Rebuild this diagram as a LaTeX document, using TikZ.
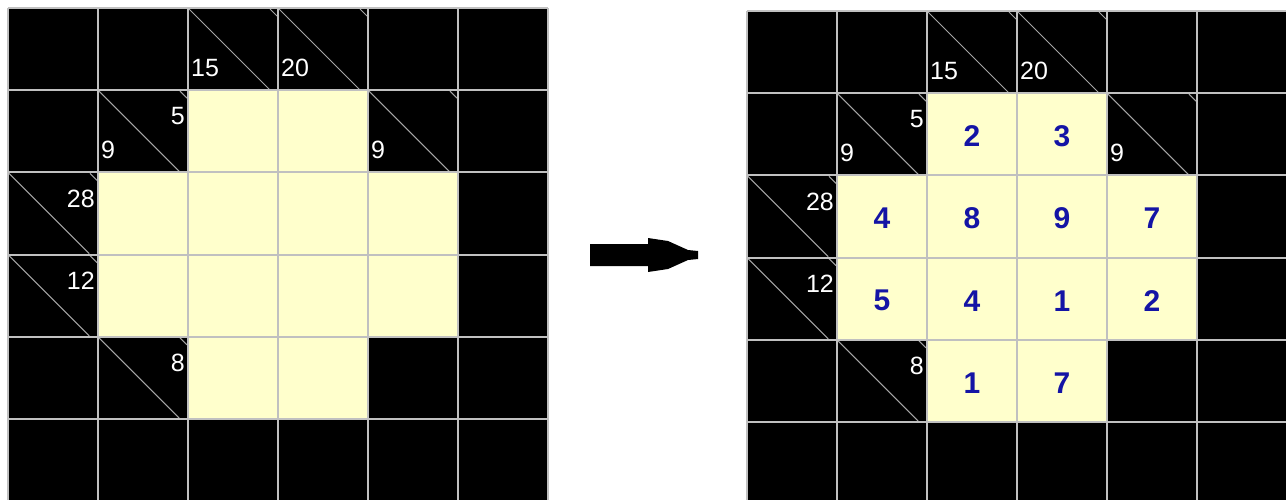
\documentclass[tikz,border=0pt]{standalone}
\usepackage{fontspec}
\setmainfont{Liberation Sans}
\definecolor{cream}{RGB}{255,255,204}
\definecolor{gridgray}{RGB}{192,192,192}
\definecolor{diaggray}{RGB}{165,165,165}
\definecolor{ansblue}{RGB}{20,20,165}
\def\rh{82.2}
\def\cw{90}
\tikzset{
  gridline/.style={gridgray, line width=2},
  diagline/.style={diaggray, line width=1},
  downclue/.style={anchor=base west, inner sep=0, text=white, font=\fontsize{25}{30}\selectfont},
  rightclue/.style={anchor=north east, inner sep=0, text=white, font=\fontsize{25}{30}\selectfont},
  answer/.style={anchor=center, inner sep=0, text=ansblue, font=\fontsize{30}{34}\selectfont\bfseries},
}
\newcommand\kakurogrid[3]{%
\begin{scope}[shift={(#1,#2)}]
  \fill[black] (0,0) rectangle (6*\cw,6*\rh);
  \foreach \c/\r in {2/1,3/1,1/2,2/2,3/2,4/2,1/3,2/3,3/3,4/3,2/4,3/4}
    \fill[cream] (\c*\cw,\r*\rh) rectangle ++(\cw,\rh);
  \foreach \c/\r in {2/0,3/0,1/1,4/1,0/2,0/3,1/4}{
    \draw[diagline] (\c*\cw+1,\r*\rh+1) -- ++(\rh-2,\rh-2);
    \draw[diagline] (\c*\cw+82,\r*\rh+1) -- ++(7,7);
  }
  \foreach \i in {0,...,6}{
    \draw[gridline] (\i*\cw,0) -- (\i*\cw,6*\rh);
    \draw[gridline] (0,\i*\rh) -- (6*\cw,\i*\rh);
  }
  \foreach \c/\r/\v in {2/0/15,3/0/20,1/1/9,4/1/9}
    \node[downclue] (#3d\c\r) at (\c*\cw+3,\r*\rh+\rh-14) {\v};
  \foreach \c/\r/\v in {1/1/5,0/2/28,0/3/12,1/4/8}
    \node[rightclue] (#3r\c\r) at (\c*\cw+\cw-3,\r*\rh+17) {\v};
\end{scope}}
\begin{document}
\begin{tikzpicture}[x=1pt,y=-1pt]
  \useasboundingbox (0,0) rectangle (1286,499);
  \fill[white] (0,0) rectangle (1286,499);
  \clip (0,0) rectangle (1286,499);
  \kakurogrid{8}{8}{L}
  \kakurogrid{747}{11}{R}
  \begin{scope}[shift={(747,11)}]
    \foreach \c/\r/\v in {2/1/2,3/1/3,1/2/4,2/2/8,3/2/9,4/2/7,1/3/5,2/3/4,3/3/1,4/3/2,2/4/1,3/4/7}
      \node[answer] (a\c\r) at (\c*\cw+\cw/2,\r*\rh+\rh/2+2) {\v};
  \end{scope}
  \fill[black] (590,244) -- (648,244) -- (648,238) -- (668,241) -- (688,250) -- (698,251)
    -- (698,259) -- (688,260) -- (668,269) -- (648,272) -- (648,266) -- (590,266) -- cycle;
\end{tikzpicture}
\end{document}
